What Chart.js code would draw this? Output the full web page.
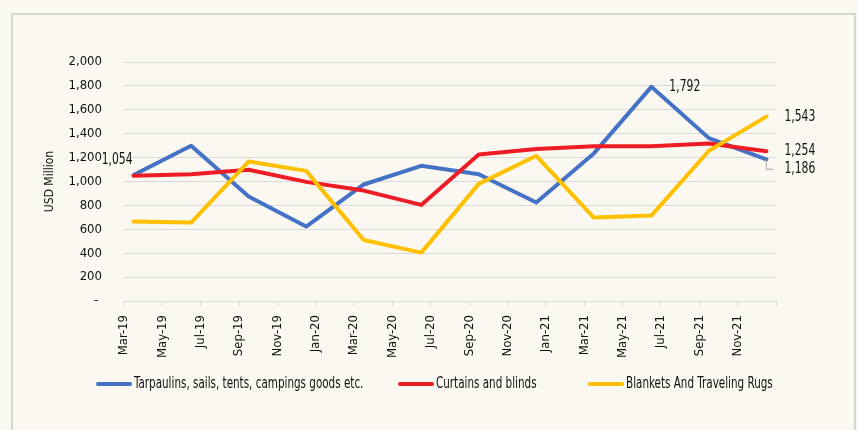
<!DOCTYPE html>
<html>
<head>
<meta charset="utf-8">
<script src="https://cdn.jsdelivr.net/npm/chart.js@4/dist/chart.umd.min.js"></script>
<style>
  html, body { margin: 0; padding: 0; background: #FBF8F1; }
  #wrap { position: relative; width: 858px; height: 430px; overflow: hidden; }
  #frame { position: absolute; left: 11px; top: 13px; width: 841px; height: 430px;
           border: 2px solid #D6D6D3; pointer-events: none; }
  canvas { position: absolute; left: 0; top: 0; }
</style>
</head>
<body>
<div id="wrap">
  <canvas id="c" width="858" height="430"></canvas>
  <div id="frame"></div>
</div>
<script>
// ---- Data ----
const periods = ['Mar-19','Jun-19','Sep-19','Dec-19','Mar-20','Jun-20','Sep-20','Dec-20','Mar-21','Jun-21','Sep-21','Dec-21'];
const tarpaulins = [1054, 1299, 874, 623, 975, 1131, 1061, 824, 1235, 1792, 1363, 1186];
const curtains   = [1048, 1061, 1098, 997, 924, 804, 1226, 1271, 1296, 1294, 1318, 1254];
const blankets   = [665, 656, 1167, 1089, 511, 405, 980, 1215, 698, 715, 1257, 1543];
const tickLabels = ['Mar-19','May-19','Jul-19','Sep-19','Nov-19','Jan-20','Mar-20','May-20','Jul-20',
                    'Sep-20','Nov-20','Jan-21','Mar-21','May-21','Jul-21','Sep-21','Nov-21'];
const seriesNames = ['Tarpaulins, sails, tents, campings goods etc.', 'Curtains and blinds', 'Blankets And Traveling Rugs'];
const seriesColors = ['#4472C4', '#EE1C25', '#FFC000'];
const yMax = 2000, yStep = 200;

// month offset (mid-month) of a 'Mon-YY' period relative to the first axis month
const MONTHS = {Jan:0,Feb:1,Mar:2,Apr:3,May:4,Jun:5,Jul:6,Aug:7,Sep:8,Oct:9,Nov:10,Dec:11};
function monthIdx(s) { const [m, y] = s.split('-'); return (2000 + +y) * 12 + MONTHS[m]; }
const base = monthIdx(tickLabels[0]);
const xOf = p => monthIdx(p) - base + 0.5;
const toPts = arr => arr.map((v, i) => ({x: xOf(periods[i]), y: v}));
const xMaxMonths = (tickLabels.length) * 2;

const FONT = "'Liberation Sans Narrow', 'DejaVu Sans Condensed', 'Arial Narrow', sans-serif";
Chart.defaults.font.family = FONT;
Chart.defaults.color = '#111';

const fmt = v => v.toLocaleString('en-US');

// draw condensed text (horizontal squeeze)
function condText(ctx, text, x, y, align, sx) {
  ctx.save();
  ctx.translate(x, y);
  ctx.scale(sx, 1);
  ctx.textAlign = align;
  ctx.fillText(text, 0, 0);
  ctx.restore();
}

// data labels (which points are labelled and how)
const labelSpecs = [
  {ds: 0, idx: 0,  side: 'left',  dy: -15},
  {ds: 0, idx: 9,  side: 'right', dy: 0},
  {ds: 2, idx: 11, side: 'right', dy: 0},
  {ds: 1, idx: 11, side: 'right', dy: 0},
  {ds: 0, idx: 11, side: 'right', dy: 10, leader: true}
];

const dataLabelPlugin = {
  id: 'dataLabels',
  afterDatasetsDraw(chart) {
    const ctx = chart.ctx;
    ctx.save();
    ctx.font = '16px ' + FONT;
    ctx.fillStyle = '#111';
    ctx.textBaseline = 'middle';
    labelSpecs.forEach(s => {
      const el = chart.getDatasetMeta(s.ds).data[s.idx];
      const v = chart.data.datasets[s.ds].data[s.idx].y;
      const px = el.x, py = el.y;
      if (s.leader) {
        ctx.strokeStyle = '#A6A6A6';
        ctx.lineWidth = 1;
        ctx.beginPath();
        ctx.moveTo(px, py);
        ctx.lineTo(px, py + s.dy);
        ctx.lineTo(px + 7, py + s.dy);
        ctx.stroke();
      }
      if (s.side === 'left') {
        condText(ctx, fmt(v), px - 1, py + s.dy, 'right', 0.75);
      } else {
        condText(ctx, fmt(v), px + 18, py + s.dy, 'left', 0.75);
      }
    });
    ctx.restore();
  }
};

const legendStarts = [96, 398, 588];
const legendPlugin = {
  id: 'customLegend',
  afterDraw(chart) {
    const ctx = chart.ctx;
    ctx.save();
    ctx.font = '15px ' + FONT;
    ctx.textBaseline = 'middle';
    const y = 384;
    chart.data.datasets.forEach((d, i) => {
      const x = legendStarts[i];
      ctx.strokeStyle = d.borderColor;
      ctx.lineWidth = 4;
      ctx.lineCap = 'round';
      ctx.beginPath();
      ctx.moveTo(x + 2, y);
      ctx.lineTo(x + 34, y);
      ctx.stroke();
      ctx.fillStyle = '#111';
      condText(ctx, d.label, x + 38, y, 'left', 0.77);
    });
    ctx.restore();
  }
};

const mk = (i, arr, order) => ({
  label: seriesNames[i],
  data: toPts(arr),
  borderColor: seriesColors[i],
  backgroundColor: seriesColors[i],
  borderWidth: 4,
  pointRadius: 0,
  tension: 0,
  borderJoinStyle: 'round',
  borderCapStyle: 'round',
  order: order
});

new Chart(document.getElementById('c'), {
  type: 'line',
  data: {
    datasets: [mk(0, tarpaulins, 3), mk(1, curtains, 2), mk(2, blankets, 1)]
  },
  options: {
    responsive: false,
    animation: false,
    devicePixelRatio: 1,
    layout: { padding: { left: 20, right: 82, top: 62, bottom: 69 } },
    plugins: { legend: { display: false }, tooltip: { enabled: false } },
    scales: {
      x: {
        type: 'linear',
        min: 0,
        max: xMaxMonths,
        afterFit(scale) { scale.height = 60; },
        afterBuildTicks(scale) {
          const t = [];
          for (let v = 0; v <= xMaxMonths; v += 2) t.push({value: v});
          scale.ticks = t;
        },
        ticks: {
          autoSkip: false,
          minRotation: 90,
          maxRotation: 90,
          padding: 9,
          font: { size: 13 },
          color: '#111',
          callback: v => tickLabels[v / 2] ?? ''
        },
        grid: { drawOnChartArea: false, drawTicks: true, tickLength: 5, color: '#D9D9D9' },
        border: { display: true, color: '#D9D9D9', width: 1 }
      },
      y: {
        min: 0,
        max: yMax,
        afterFit(scale) { scale.width = 104; },
        ticks: {
          stepSize: yStep,
          padding: 22,
          font: { size: 13 },
          color: '#111',
          callback: v => v === 0 ? '- ' : fmt(v)
        },
        grid: { color: '#D9D9D9', drawTicks: false },
        border: { display: false },
        title: {
          display: true,
          text: 'USD Million',
          font: { size: 12 },
          color: '#111',
          padding: { top: 23, bottom: 0 }
        }
      }
    }
  },
  plugins: [dataLabelPlugin, legendPlugin]
});
</script>
</body>
</html>
